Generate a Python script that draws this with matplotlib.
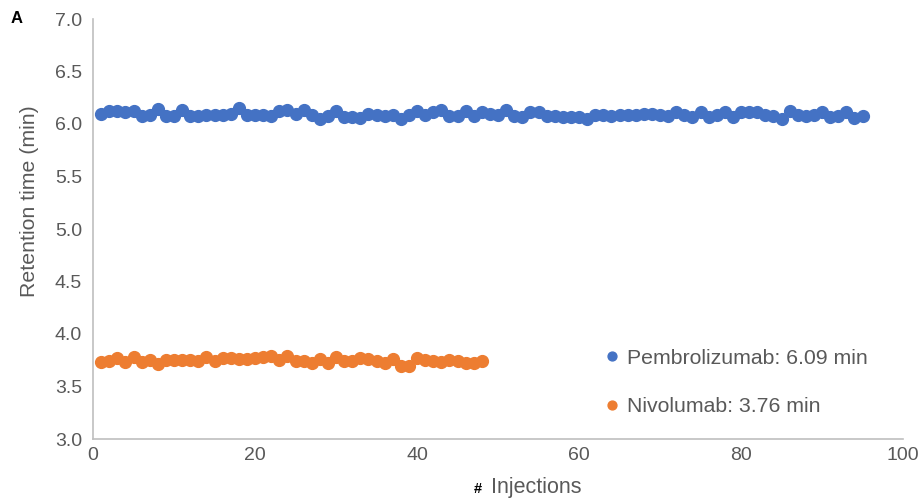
import matplotlib.pyplot as plt
import numpy as np

plt.rcParams['font.family'] = ['Liberation Sans', 'DejaVu Sans']

# retention time per injection (min)
pembro_rt = [
    6.10, 6.12, 6.12, 6.11, 6.12, 6.08, 6.09, 6.14, 6.08, 6.08,
    6.13, 6.08, 6.08, 6.09, 6.09, 6.09, 6.10, 6.15, 6.09, 6.09,
    6.09, 6.08, 6.12, 6.13, 6.10, 6.13, 6.09, 6.05, 6.08, 6.12,
    6.07, 6.07, 6.06, 6.10, 6.09, 6.08, 6.09, 6.05, 6.09, 6.12,
    6.09, 6.11, 6.13, 6.08, 6.08, 6.12, 6.08, 6.11, 6.10, 6.09,
    6.13, 6.08, 6.07, 6.11, 6.11, 6.08, 6.08, 6.07, 6.07, 6.07,
    6.05, 6.09, 6.09, 6.08, 6.09, 6.09, 6.09, 6.10, 6.10, 6.09,
    6.08, 6.11, 6.09, 6.07, 6.11, 6.07, 6.09, 6.11, 6.07, 6.11,
    6.11, 6.11, 6.09, 6.08, 6.05, 6.12, 6.09, 6.08, 6.09, 6.11,
    6.07, 6.08, 6.11, 6.06, 6.08,
]
nivo_rt = [
    3.73, 3.74, 3.77, 3.73, 3.78, 3.73, 3.75, 3.71, 3.75, 3.75,
    3.75, 3.75, 3.74, 3.78, 3.74, 3.77, 3.77, 3.76, 3.76, 3.77,
    3.78, 3.79, 3.75, 3.79, 3.74, 3.74, 3.72, 3.76, 3.72, 3.78,
    3.74, 3.74, 3.77, 3.76, 3.74, 3.72, 3.76, 3.70, 3.70, 3.77,
    3.75, 3.74, 3.73, 3.75, 3.74, 3.72, 3.72, 3.74,
]
pembro_label = "Pembrolizumab: 6.09 min"
nivo_label = "Nivolumab: 3.76 min"

pembro_x = np.arange(1, len(pembro_rt) + 1)
nivo_x = np.arange(1, len(nivo_rt) + 1)

blue = "#4472C4"
orange = "#ED7D31"
grey = "#595959"

fig = plt.figure(figsize=(9.23, 5.04), dpi=100)
ax = fig.add_axes([93 / 923, 65 / 504, 810 / 923, 420 / 504])

ax.plot(pembro_x, pembro_rt, 'o', color=blue, markersize=8.5, label=pembro_label)
ax.plot(nivo_x, nivo_rt, 'o', color=orange, markersize=8.5, label=nivo_label)

ax.set_xlim(0, 100)
ax.set_ylim(3.0, 7.0)
ax.set_xticks(np.arange(0, 101, 20))
yt = np.arange(3.0, 7.01, 0.5)
ax.set_yticks(yt)
ax.set_yticklabels([f"{v:.1f}" for v in yt])
ax.tick_params(length=0, labelsize=14, colors=grey, pad=8)
ax.tick_params(axis='x', pad=6)

for s in ['top', 'right']:
    ax.spines[s].set_visible(False)
for s in ['left', 'bottom']:
    ax.spines[s].set_color("#bfbfbf")
    ax.spines[s].set_linewidth(1.2)

ax.set_ylabel("Retention time (min)", fontsize=15.3, color=grey)
ax.yaxis.set_label_coords(-0.067, 0.567)
fig.text(491 / 923, 17 / 504, "Injections", fontsize=15.5, color=grey,
         ha='left', va='center')
fig.text(482 / 923, 15 / 504, "#", fontsize=10.5, fontweight='bold', color='black',
         ha='right', va='center')

fig.text(0.012, 0.955, "A", fontsize=12, fontweight='bold', color='black')

ax.legend(loc='upper left', bbox_to_anchor=(0.625, 0.215), frameon=False,
          fontsize=15.3, labelcolor=grey, handletextpad=0.1, borderpad=0,
          borderaxespad=0, labelspacing=1.4, markerscale=0.75, handlelength=1.2)

fig.savefig("out.png", dpi=100)
